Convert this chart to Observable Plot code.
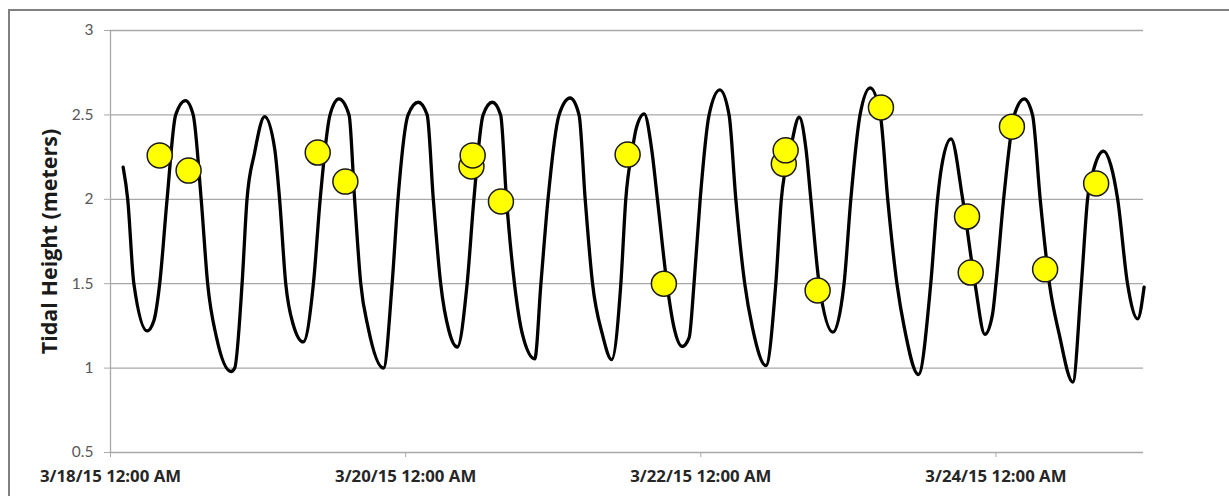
<!DOCTYPE html>
<html><head><meta charset="utf-8">
<script src="https://cdn.jsdelivr.net/npm/d3@7"></script>
<script src="https://cdn.jsdelivr.net/npm/@observablehq/plot@0.6"></script>
<style>
html,body{margin:0;padding:0;background:#fff;}
#wrap{position:relative;width:1229px;height:496px;overflow:hidden;background:#fff;}
#chart{position:absolute;left:0;top:0;}
#frame{position:absolute;left:8px;top:9px;width:1300px;height:600px;border-left:2px solid #808080;border-top:2px solid #808080;pointer-events:none;}
</style></head><body>
<div id="wrap"><div id="chart"></div><div id="frame"></div></div>
<script>
// Tidal height readings: hours after 3/18/15 12:00 AM, and height in meters
const tideHours = [2.06,2.8,3.8,5.97,7.05,8.0,9.2,10.6,12.2,13.45,14.75,15.8,17.25,19.6,20.2,21.4,22.2,23.4,25.06,26.7,27.5,28.5,29.7,31.35,33.0,34.1,35.7,37.15,38.8,39.7,40.7,41.9,44.4,45.8,46.75,48.4,50.05,51.5,52.5,53.7,55.05,56.4,58.0,59.1,60.6,62.1,63.45,64.4,65.7,67.0,69.0,70.0,71.15,72.95,74.75,76.2,77.2,78.4,80.0,81.5,83.0,83.8,84.9,85.5,86.8,88.0,88.95,90.5,91.65,93.0,94.1,94.9,95.9,97.35,99.1,100.6,101.7,103.15,104.4,106.6,108.2,109.1,110.6,112.0,113.1,113.9,115.25,117.5,119.3,120.4,121.9,123.55,125.2,126.4,127.9,129.1,131.4,133.4,134.5,135.15,136.7,138.6,140.6,142.2,143.45,144.0,145.25,147.0,148.6,149.95,151.2,152.7,154.3,156.5,157.9,158.9,160.0,161.5,162.7,163.8,165.4,167.05,168.1];
const tideHeights = [2.19,2.0,1.5,1.22,1.28,1.5,2.0,2.5,2.585,2.5,2.0,1.5,1.18,0.98,1.0,1.5,2.0,2.27,2.49,2.3,2.0,1.5,1.26,1.155,1.5,2.0,2.5,2.595,2.5,2.0,1.5,1.24,1.0,1.5,2.0,2.5,2.575,2.5,2.0,1.5,1.22,1.125,1.5,2.0,2.5,2.575,2.5,2.0,1.5,1.2,1.055,1.5,2.0,2.5,2.6,2.5,2.0,1.5,1.2,1.05,1.5,2.0,2.3,2.42,2.506,2.3,2.0,1.5,1.24,1.128,1.18,1.5,2.0,2.5,2.648,2.5,2.0,1.5,1.24,1.015,1.5,2.0,2.3,2.486,2.3,2.0,1.5,1.213,1.5,2.0,2.5,2.66,2.5,2.0,1.5,1.24,0.962,1.5,2.0,2.19,2.358,2.0,1.5,1.2,1.32,1.5,2.0,2.5,2.595,2.5,2.0,1.5,1.2,0.917,1.5,2.0,2.19,2.285,2.2,2.0,1.5,1.292,1.48];

// Observation points (yellow circles)
const obsHours = [8.0,12.7,33.7,38.2,58.7,58.9,63.5,84.1,90.0,109.5,109.8,115.0,125.3,139.3,139.9,146.6,152.0,160.3];
const obsHeights = [2.26,2.17,2.277,2.105,2.195,2.26,1.987,2.265,1.50,2.21,2.29,1.46,2.544,1.898,1.566,2.43,1.585,2.094];

const yTicks = [0.5,1,1.5,2,2.5,3];
const yTickLabels = ["0.5","1","1.5","2","2.5","3"];
const xTickHours = [0,48,96,144];
const xTickLabels = ["3/18/15 12:00 AM","3/20/15 12:00 AM","3/22/15 12:00 AM","3/24/15 12:00 AM"];
const xDomainHours = [0,168];
const yTitle = "Tidal Height (meters)";

const startUTC = Date.UTC(2015, 2, 18);
const toDate = h => new Date(startUTC + h * 3600000);
const tide = tideHours.map((h, i) => ({t: toDate(h), v: tideHeights[i]}));
const obs = obsHours.map((h, i) => ({t: toDate(h), v: obsHeights[i]}));
const xTicks = xTickHours.map(toDate);
const xFmt = d => xTickLabels[xTicks.findIndex(x => +x === +d)];
const yFmt = d => yTickLabels[yTicks.indexOf(d)];

const grid = "#a8a8a8";
const boldFont = "'Open Sans', 'Noto Sans', sans-serif";
const chart = Plot.plot({
  width: 1229,
  height: 496,
  marginLeft: 110,
  marginRight: 86,
  marginTop: 30,
  marginBottom: 44,
  style: {fontFamily: "Lato, 'Open Sans', sans-serif", background: "transparent"},
  x: {type: "utc", domain: xDomainHours.map(toDate)},
  y: {domain: [0.5, 3]},
  marks: [
    Plot.ruleY(yTicks, {stroke: grid, strokeWidth: 1.3}),
    Plot.ruleX([toDate(0)], {y1: 0.5, y2: 3, stroke: grid, strokeWidth: 1.3}),
    Plot.axisY({ticks: yTicks, tickFormat: yFmt, tickSize: 6, tickPadding: 11, stroke: grid, fill: "#595959", fontSize: 15.5, label: null}),
    Plot.axisX({ticks: xTicks, tickFormat: xFmt, tickSize: 5, tickPadding: 13, stroke: grid, fill: "#262626", fontSize: 16.8, fontWeight: "bold", fontFamily: boldFont, label: null}),
    Plot.line(tide, {x: "t", y: "v", curve: "monotone-x", stroke: "black", strokeWidth: 3.3}),
    Plot.dot(obs, {x: "t", y: "v", r: 12.5, fill: "#ffff00", stroke: "#1a1a1a", strokeWidth: 1.5}),
    Plot.text([yTitle], {frameAnchor: "left", dx: -60, rotate: -90, textAnchor: "middle", fontSize: 21.5, fontWeight: "bold", fontFamily: boldFont, fill: "#1a1a1a"})
  ]
});
document.getElementById("chart").appendChild(chart);
</script>
</body></html>
